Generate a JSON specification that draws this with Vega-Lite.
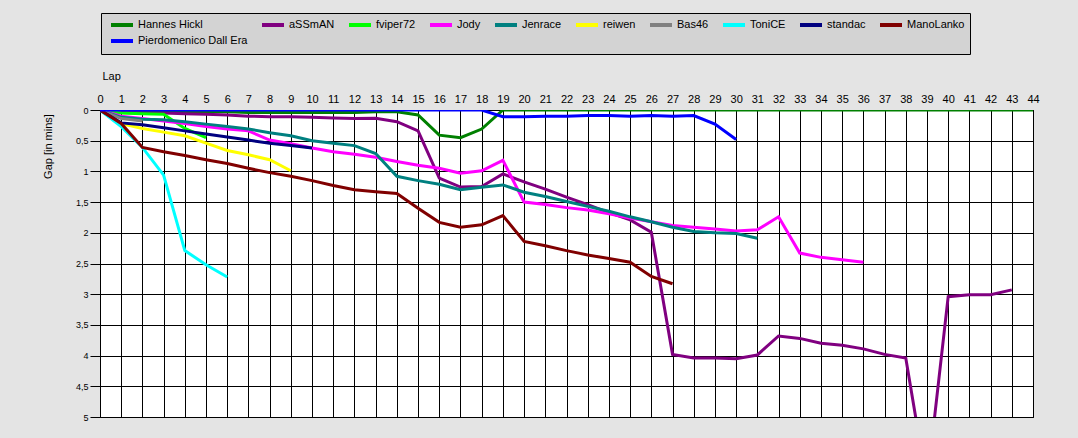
{
  "$schema": "https://vega.github.io/schema/vega-lite/v6.json",
  "width": 933,
  "height": 307,
  "autosize": {"type": "none"},
  "padding": {"left": 100, "top": 110, "right": 45, "bottom": 21},
  "background": "#e4e4e4",
  "config": {
    "view": {"fill": "white", "stroke": "black", "strokeWidth": 1},
    "font": "Liberation Sans"
  },
  "data": {
    "values": [
      {"driver": "Hannes Hickl", "lap": 0, "gap": 0},
      {"driver": "Hannes Hickl", "lap": 1, "gap": 0.03},
      {"driver": "Hannes Hickl", "lap": 2, "gap": 0.03},
      {"driver": "Hannes Hickl", "lap": 3, "gap": 0.03},
      {"driver": "Hannes Hickl", "lap": 4, "gap": 0.03},
      {"driver": "Hannes Hickl", "lap": 5, "gap": 0.03},
      {"driver": "Hannes Hickl", "lap": 6, "gap": 0.03},
      {"driver": "Hannes Hickl", "lap": 7, "gap": 0.04},
      {"driver": "Hannes Hickl", "lap": 8, "gap": 0.04},
      {"driver": "Hannes Hickl", "lap": 9, "gap": 0.04},
      {"driver": "Hannes Hickl", "lap": 10, "gap": 0.04},
      {"driver": "Hannes Hickl", "lap": 11, "gap": 0.04},
      {"driver": "Hannes Hickl", "lap": 12, "gap": 0.04},
      {"driver": "Hannes Hickl", "lap": 13, "gap": 0.03},
      {"driver": "Hannes Hickl", "lap": 14, "gap": 0.03},
      {"driver": "Hannes Hickl", "lap": 15, "gap": 0.08},
      {"driver": "Hannes Hickl", "lap": 16, "gap": 0.41},
      {"driver": "Hannes Hickl", "lap": 17, "gap": 0.45},
      {"driver": "Hannes Hickl", "lap": 18, "gap": 0.31},
      {"driver": "Hannes Hickl", "lap": 19, "gap": 0},
      {"driver": "Hannes Hickl", "lap": 20, "gap": 0},
      {"driver": "Hannes Hickl", "lap": 21, "gap": 0},
      {"driver": "Hannes Hickl", "lap": 22, "gap": 0},
      {"driver": "Hannes Hickl", "lap": 23, "gap": 0},
      {"driver": "Hannes Hickl", "lap": 24, "gap": 0},
      {"driver": "Hannes Hickl", "lap": 25, "gap": 0},
      {"driver": "Hannes Hickl", "lap": 26, "gap": 0},
      {"driver": "Hannes Hickl", "lap": 27, "gap": 0},
      {"driver": "Hannes Hickl", "lap": 28, "gap": 0},
      {"driver": "Hannes Hickl", "lap": 29, "gap": 0},
      {"driver": "Hannes Hickl", "lap": 30, "gap": 0},
      {"driver": "Hannes Hickl", "lap": 31, "gap": 0},
      {"driver": "Hannes Hickl", "lap": 32, "gap": 0},
      {"driver": "Hannes Hickl", "lap": 33, "gap": 0},
      {"driver": "Hannes Hickl", "lap": 34, "gap": 0},
      {"driver": "Hannes Hickl", "lap": 35, "gap": 0},
      {"driver": "Hannes Hickl", "lap": 36, "gap": 0},
      {"driver": "Hannes Hickl", "lap": 37, "gap": 0},
      {"driver": "Hannes Hickl", "lap": 38, "gap": 0},
      {"driver": "Hannes Hickl", "lap": 39, "gap": 0},
      {"driver": "Hannes Hickl", "lap": 40, "gap": 0},
      {"driver": "Hannes Hickl", "lap": 41, "gap": 0},
      {"driver": "Hannes Hickl", "lap": 42, "gap": 0},
      {"driver": "Hannes Hickl", "lap": 43, "gap": 0},
      {"driver": "Hannes Hickl", "lap": 44, "gap": 0},
      {"driver": "aSSmAN", "lap": 0, "gap": 0},
      {"driver": "aSSmAN", "lap": 1, "gap": 0.04},
      {"driver": "aSSmAN", "lap": 2, "gap": 0.05},
      {"driver": "aSSmAN", "lap": 3, "gap": 0.05},
      {"driver": "aSSmAN", "lap": 4, "gap": 0.06},
      {"driver": "aSSmAN", "lap": 5, "gap": 0.07},
      {"driver": "aSSmAN", "lap": 6, "gap": 0.08},
      {"driver": "aSSmAN", "lap": 7, "gap": 0.1},
      {"driver": "aSSmAN", "lap": 8, "gap": 0.11},
      {"driver": "aSSmAN", "lap": 9, "gap": 0.11},
      {"driver": "aSSmAN", "lap": 10, "gap": 0.12},
      {"driver": "aSSmAN", "lap": 11, "gap": 0.13},
      {"driver": "aSSmAN", "lap": 12, "gap": 0.14},
      {"driver": "aSSmAN", "lap": 13, "gap": 0.135},
      {"driver": "aSSmAN", "lap": 14, "gap": 0.19},
      {"driver": "aSSmAN", "lap": 15, "gap": 0.34},
      {"driver": "aSSmAN", "lap": 16, "gap": 1.11},
      {"driver": "aSSmAN", "lap": 17, "gap": 1.255},
      {"driver": "aSSmAN", "lap": 18, "gap": 1.245},
      {"driver": "aSSmAN", "lap": 19, "gap": 1.04},
      {"driver": "aSSmAN", "lap": 20, "gap": 1.17},
      {"driver": "aSSmAN", "lap": 21, "gap": 1.29},
      {"driver": "aSSmAN", "lap": 22, "gap": 1.42},
      {"driver": "aSSmAN", "lap": 23, "gap": 1.54},
      {"driver": "aSSmAN", "lap": 24, "gap": 1.67},
      {"driver": "aSSmAN", "lap": 25, "gap": 1.79},
      {"driver": "aSSmAN", "lap": 26, "gap": 1.99},
      {"driver": "aSSmAN", "lap": 27, "gap": 3.98},
      {"driver": "aSSmAN", "lap": 28, "gap": 4.04},
      {"driver": "aSSmAN", "lap": 29, "gap": 4.04},
      {"driver": "aSSmAN", "lap": 30, "gap": 4.05},
      {"driver": "aSSmAN", "lap": 31, "gap": 3.99},
      {"driver": "aSSmAN", "lap": 32, "gap": 3.68},
      {"driver": "aSSmAN", "lap": 33, "gap": 3.72},
      {"driver": "aSSmAN", "lap": 34, "gap": 3.8},
      {"driver": "aSSmAN", "lap": 35, "gap": 3.83},
      {"driver": "aSSmAN", "lap": 36, "gap": 3.89},
      {"driver": "aSSmAN", "lap": 37, "gap": 3.98},
      {"driver": "aSSmAN", "lap": 38, "gap": 4.04},
      {"driver": "aSSmAN", "lap": 39, "gap": 6.1},
      {"driver": "aSSmAN", "lap": 40, "gap": 3.04},
      {"driver": "aSSmAN", "lap": 41, "gap": 3.01},
      {"driver": "aSSmAN", "lap": 42, "gap": 3.01},
      {"driver": "aSSmAN", "lap": 43, "gap": 2.93},
      {"driver": "fviper72", "lap": 0, "gap": 0},
      {"driver": "fviper72", "lap": 1, "gap": 0.05},
      {"driver": "fviper72", "lap": 2, "gap": 0.06},
      {"driver": "fviper72", "lap": 3, "gap": 0.07},
      {"driver": "fviper72", "lap": 4, "gap": 0.3},
      {"driver": "fviper72", "lap": 5, "gap": 0.45},
      {"driver": "Jody", "lap": 0, "gap": 0},
      {"driver": "Jody", "lap": 1, "gap": 0.1},
      {"driver": "Jody", "lap": 2, "gap": 0.14},
      {"driver": "Jody", "lap": 3, "gap": 0.18},
      {"driver": "Jody", "lap": 4, "gap": 0.22},
      {"driver": "Jody", "lap": 5, "gap": 0.27},
      {"driver": "Jody", "lap": 6, "gap": 0.31},
      {"driver": "Jody", "lap": 7, "gap": 0.34},
      {"driver": "Jody", "lap": 8, "gap": 0.49},
      {"driver": "Jody", "lap": 9, "gap": 0.55},
      {"driver": "Jody", "lap": 10, "gap": 0.62},
      {"driver": "Jody", "lap": 11, "gap": 0.68},
      {"driver": "Jody", "lap": 12, "gap": 0.72},
      {"driver": "Jody", "lap": 13, "gap": 0.77},
      {"driver": "Jody", "lap": 14, "gap": 0.84},
      {"driver": "Jody", "lap": 15, "gap": 0.9},
      {"driver": "Jody", "lap": 16, "gap": 0.95},
      {"driver": "Jody", "lap": 17, "gap": 1.03},
      {"driver": "Jody", "lap": 18, "gap": 0.99},
      {"driver": "Jody", "lap": 19, "gap": 0.82},
      {"driver": "Jody", "lap": 20, "gap": 1.5},
      {"driver": "Jody", "lap": 21, "gap": 1.54},
      {"driver": "Jody", "lap": 22, "gap": 1.59},
      {"driver": "Jody", "lap": 23, "gap": 1.63},
      {"driver": "Jody", "lap": 24, "gap": 1.69},
      {"driver": "Jody", "lap": 25, "gap": 1.76},
      {"driver": "Jody", "lap": 26, "gap": 1.82},
      {"driver": "Jody", "lap": 27, "gap": 1.88},
      {"driver": "Jody", "lap": 28, "gap": 1.91},
      {"driver": "Jody", "lap": 29, "gap": 1.94},
      {"driver": "Jody", "lap": 30, "gap": 1.97},
      {"driver": "Jody", "lap": 31, "gap": 1.95},
      {"driver": "Jody", "lap": 32, "gap": 1.74},
      {"driver": "Jody", "lap": 33, "gap": 2.33},
      {"driver": "Jody", "lap": 34, "gap": 2.4},
      {"driver": "Jody", "lap": 35, "gap": 2.44},
      {"driver": "Jody", "lap": 36, "gap": 2.48},
      {"driver": "Jenrace", "lap": 0, "gap": 0},
      {"driver": "Jenrace", "lap": 1, "gap": 0.12},
      {"driver": "Jenrace", "lap": 2, "gap": 0.15},
      {"driver": "Jenrace", "lap": 3, "gap": 0.16},
      {"driver": "Jenrace", "lap": 4, "gap": 0.19},
      {"driver": "Jenrace", "lap": 5, "gap": 0.23},
      {"driver": "Jenrace", "lap": 6, "gap": 0.27},
      {"driver": "Jenrace", "lap": 7, "gap": 0.31},
      {"driver": "Jenrace", "lap": 8, "gap": 0.37},
      {"driver": "Jenrace", "lap": 9, "gap": 0.42},
      {"driver": "Jenrace", "lap": 10, "gap": 0.5},
      {"driver": "Jenrace", "lap": 11, "gap": 0.54},
      {"driver": "Jenrace", "lap": 12, "gap": 0.58},
      {"driver": "Jenrace", "lap": 13, "gap": 0.71},
      {"driver": "Jenrace", "lap": 14, "gap": 1.08},
      {"driver": "Jenrace", "lap": 15, "gap": 1.15},
      {"driver": "Jenrace", "lap": 16, "gap": 1.21},
      {"driver": "Jenrace", "lap": 17, "gap": 1.3},
      {"driver": "Jenrace", "lap": 18, "gap": 1.26},
      {"driver": "Jenrace", "lap": 19, "gap": 1.22},
      {"driver": "Jenrace", "lap": 20, "gap": 1.34},
      {"driver": "Jenrace", "lap": 21, "gap": 1.41},
      {"driver": "Jenrace", "lap": 22, "gap": 1.49},
      {"driver": "Jenrace", "lap": 23, "gap": 1.57},
      {"driver": "Jenrace", "lap": 24, "gap": 1.65},
      {"driver": "Jenrace", "lap": 25, "gap": 1.74},
      {"driver": "Jenrace", "lap": 26, "gap": 1.82},
      {"driver": "Jenrace", "lap": 27, "gap": 1.91},
      {"driver": "Jenrace", "lap": 28, "gap": 1.98},
      {"driver": "Jenrace", "lap": 29, "gap": 2.0},
      {"driver": "Jenrace", "lap": 30, "gap": 2.01},
      {"driver": "Jenrace", "lap": 31, "gap": 2.09},
      {"driver": "reiwen", "lap": 0, "gap": 0},
      {"driver": "reiwen", "lap": 1, "gap": 0.22},
      {"driver": "reiwen", "lap": 2, "gap": 0.3},
      {"driver": "reiwen", "lap": 3, "gap": 0.36},
      {"driver": "reiwen", "lap": 4, "gap": 0.42},
      {"driver": "reiwen", "lap": 5, "gap": 0.54},
      {"driver": "reiwen", "lap": 6, "gap": 0.66},
      {"driver": "reiwen", "lap": 7, "gap": 0.73},
      {"driver": "reiwen", "lap": 8, "gap": 0.81},
      {"driver": "reiwen", "lap": 9, "gap": 0.99},
      {"driver": "Bas46", "lap": 0, "gap": 0},
      {"driver": "Bas46", "lap": 1, "gap": 0.14},
      {"driver": "Bas46", "lap": 2, "gap": 0.18},
      {"driver": "ToniCE", "lap": 0, "gap": 0},
      {"driver": "ToniCE", "lap": 1, "gap": 0.27},
      {"driver": "ToniCE", "lap": 2, "gap": 0.61},
      {"driver": "ToniCE", "lap": 3, "gap": 1.06},
      {"driver": "ToniCE", "lap": 4, "gap": 2.29},
      {"driver": "ToniCE", "lap": 5, "gap": 2.52},
      {"driver": "ToniCE", "lap": 6, "gap": 2.72},
      {"driver": "standac", "lap": 0, "gap": 0},
      {"driver": "standac", "lap": 1, "gap": 0.21},
      {"driver": "standac", "lap": 2, "gap": 0.24},
      {"driver": "standac", "lap": 3, "gap": 0.29},
      {"driver": "standac", "lap": 4, "gap": 0.34},
      {"driver": "standac", "lap": 5, "gap": 0.39},
      {"driver": "standac", "lap": 6, "gap": 0.44},
      {"driver": "standac", "lap": 7, "gap": 0.49},
      {"driver": "standac", "lap": 8, "gap": 0.54},
      {"driver": "standac", "lap": 9, "gap": 0.58},
      {"driver": "standac", "lap": 10, "gap": 0.62},
      {"driver": "ManoLanko", "lap": 0, "gap": 0},
      {"driver": "ManoLanko", "lap": 1, "gap": 0.22},
      {"driver": "ManoLanko", "lap": 2, "gap": 0.61},
      {"driver": "ManoLanko", "lap": 3, "gap": 0.68},
      {"driver": "ManoLanko", "lap": 4, "gap": 0.74},
      {"driver": "ManoLanko", "lap": 5, "gap": 0.81},
      {"driver": "ManoLanko", "lap": 6, "gap": 0.87},
      {"driver": "ManoLanko", "lap": 7, "gap": 0.95},
      {"driver": "ManoLanko", "lap": 8, "gap": 1.02},
      {"driver": "ManoLanko", "lap": 9, "gap": 1.08},
      {"driver": "ManoLanko", "lap": 10, "gap": 1.15},
      {"driver": "ManoLanko", "lap": 11, "gap": 1.23},
      {"driver": "ManoLanko", "lap": 12, "gap": 1.3},
      {"driver": "ManoLanko", "lap": 13, "gap": 1.33},
      {"driver": "ManoLanko", "lap": 14, "gap": 1.36},
      {"driver": "ManoLanko", "lap": 15, "gap": 1.6},
      {"driver": "ManoLanko", "lap": 16, "gap": 1.83},
      {"driver": "ManoLanko", "lap": 17, "gap": 1.91},
      {"driver": "ManoLanko", "lap": 18, "gap": 1.87},
      {"driver": "ManoLanko", "lap": 19, "gap": 1.72},
      {"driver": "ManoLanko", "lap": 20, "gap": 2.14},
      {"driver": "ManoLanko", "lap": 21, "gap": 2.21},
      {"driver": "ManoLanko", "lap": 22, "gap": 2.29},
      {"driver": "ManoLanko", "lap": 23, "gap": 2.36},
      {"driver": "ManoLanko", "lap": 24, "gap": 2.42},
      {"driver": "ManoLanko", "lap": 25, "gap": 2.48},
      {"driver": "ManoLanko", "lap": 26, "gap": 2.71},
      {"driver": "ManoLanko", "lap": 27, "gap": 2.83},
      {"driver": "Pierdomenico Dall Era", "lap": 0, "gap": 0},
      {"driver": "Pierdomenico Dall Era", "lap": 1, "gap": 0},
      {"driver": "Pierdomenico Dall Era", "lap": 2, "gap": 0},
      {"driver": "Pierdomenico Dall Era", "lap": 3, "gap": 0},
      {"driver": "Pierdomenico Dall Era", "lap": 4, "gap": 0},
      {"driver": "Pierdomenico Dall Era", "lap": 5, "gap": 0},
      {"driver": "Pierdomenico Dall Era", "lap": 6, "gap": 0},
      {"driver": "Pierdomenico Dall Era", "lap": 7, "gap": 0},
      {"driver": "Pierdomenico Dall Era", "lap": 8, "gap": 0},
      {"driver": "Pierdomenico Dall Era", "lap": 9, "gap": 0},
      {"driver": "Pierdomenico Dall Era", "lap": 10, "gap": 0},
      {"driver": "Pierdomenico Dall Era", "lap": 11, "gap": 0},
      {"driver": "Pierdomenico Dall Era", "lap": 12, "gap": 0},
      {"driver": "Pierdomenico Dall Era", "lap": 13, "gap": 0},
      {"driver": "Pierdomenico Dall Era", "lap": 14, "gap": 0},
      {"driver": "Pierdomenico Dall Era", "lap": 15, "gap": 0},
      {"driver": "Pierdomenico Dall Era", "lap": 16, "gap": 0},
      {"driver": "Pierdomenico Dall Era", "lap": 17, "gap": 0},
      {"driver": "Pierdomenico Dall Era", "lap": 18, "gap": 0},
      {"driver": "Pierdomenico Dall Era", "lap": 19, "gap": 0.11},
      {"driver": "Pierdomenico Dall Era", "lap": 20, "gap": 0.11},
      {"driver": "Pierdomenico Dall Era", "lap": 21, "gap": 0.1},
      {"driver": "Pierdomenico Dall Era", "lap": 22, "gap": 0.1},
      {"driver": "Pierdomenico Dall Era", "lap": 23, "gap": 0.09},
      {"driver": "Pierdomenico Dall Era", "lap": 24, "gap": 0.09},
      {"driver": "Pierdomenico Dall Era", "lap": 25, "gap": 0.1},
      {"driver": "Pierdomenico Dall Era", "lap": 26, "gap": 0.09},
      {"driver": "Pierdomenico Dall Era", "lap": 27, "gap": 0.1},
      {"driver": "Pierdomenico Dall Era", "lap": 28, "gap": 0.09},
      {"driver": "Pierdomenico Dall Era", "lap": 29, "gap": 0.23},
      {"driver": "Pierdomenico Dall Era", "lap": 30, "gap": 0.48}
    ]
  },
  "mark": {"type": "line", "strokeWidth": 3, "clip": true},
  "encoding": {
    "x": {
      "field": "lap",
      "type": "quantitative",
      "scale": {"domain": [0, 44], "nice": false, "zero": false},
      "axis": {
        "orient": "top",
        "values": [0,1,2,3,4,5,6,7,8,9,10,11,12,13,14,15,16,17,18,19,20,21,22,23,24,25,26,27,28,29,30,31,32,33,34,35,36,37,38,39,40,41,42,43,44],
        "grid": true,
        "gridColor": "black",
        "gridOpacity": 1,
        "gridWidth": 1,
        "ticks": false,
        "domain": false,
        "labelFontSize": 11,
        "labelColor": "black",
        "labelPadding": 6,
        "labelFlush": false,
        "labelOverlap": false,
        "title": "Lap",
        "titleX": 2,
        "titleY": -34,
        "titleAlign": "left",
        "titleBaseline": "middle",
        "titleFontSize": 11,
        "titleFontWeight": "normal",
        "titleColor": "black"
      }
    },
    "y": {
      "field": "gap",
      "type": "quantitative",
      "scale": {"domain": [0, 5], "nice": false, "zero": false, "reverse": true},
      "axis": {
        "values": [0, 0.5, 1, 1.5, 2, 2.5, 3, 3.5, 4, 4.5, 5],
        "grid": true,
        "gridColor": "black",
        "gridOpacity": 1,
        "gridWidth": 1,
        "ticks": true,
        "tickSize": 10,
        "tickColor": "black",
        "domain": false,
        "labelExpr": "replace(toString(datum.value), '.', ',')",
        "labelFontSize": 9,
        "labelColor": "black",
        "labelPadding": 2,
        "labelFlush": false,
        "labelOverlap": false,
        "title": "Gap [in mins]",
        "titleX": -52,
        "titleY": 36,
        "titleAngle": 270,
        "titleAlign": "center",
        "titleBaseline": "middle",
        "titleFontSize": 11,
        "titleFontWeight": "normal",
        "titleColor": "black"
      }
    },
    "color": {
      "field": "driver",
      "type": "nominal",
      "scale": {
        "domain": ["Hannes Hickl", "aSSmAN", "fviper72", "Jody", "Jenrace", "reiwen", "Bas46", "ToniCE", "standac", "ManoLanko", "Pierdomenico Dall Era"],
        "range": ["#008000", "#800080", "#00ff00", "#ff00ff", "#008080", "#ffff00", "#808080", "#00ffff", "#000080", "#800000", "#0000ff"]
      },
      "legend": {
        "orient": "none",
        "direction": "horizontal",
        "legendX": 1,
        "legendY": -97,
        "columns": 10,
        "title": null,
        "symbolType": "M-2.2,0H2.2",
        "symbolSize": 100,
        "symbolStrokeWidth": 4,
        "symbolOffset": 9,
        "labelOffset": 9,
        "columnPadding": 6,
        "rowPadding": 0,
        "padding": 5,
        "fillColor": "#d3d3d3",
        "strokeColor": "black",
        "labelFontSize": 11,
        "labelColor": "black",
        "labelLimit": 300
      }
    }
  }
}
